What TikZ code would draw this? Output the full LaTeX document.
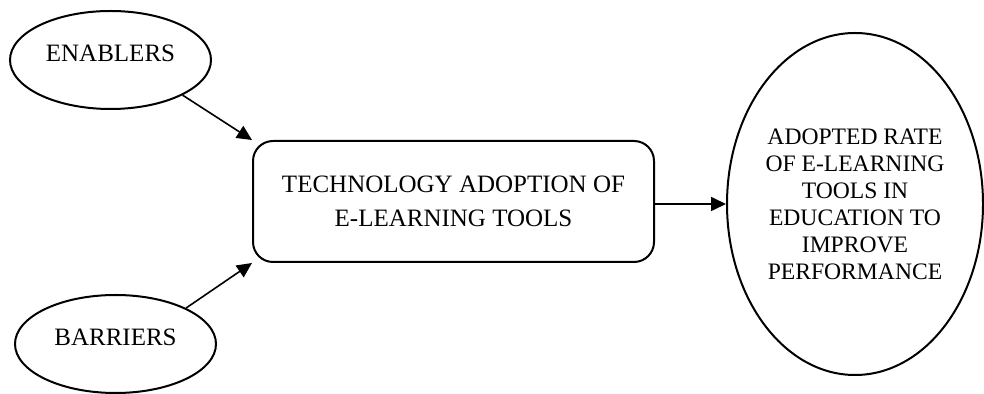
\documentclass[tikz,border=0pt]{standalone}
\usepackage{fontspec}
\setmainfont{Liberation Serif}
\usetikzlibrary{shapes.geometric,arrows.meta}

\begin{document}
\begin{tikzpicture}[x=0.5pt, y=-0.5pt,
				factor/.style={ellipse, draw=black, line width=1pt, minimum width=100.5pt, minimum height=49pt, inner sep=0pt, font=\fontsize{12.5}{15}\selectfont, text height=9pt, text depth=7.8pt},
				process/.style={rectangle, rounded corners=10pt, draw=black, line width=1pt, minimum width=200.5pt, minimum height=60.5pt, align=center, font=\fontsize{12.5}{17}\selectfont},
				result/.style={ellipse, draw=black, line width=1pt, minimum width=128pt, minimum height=171pt, inner sep=0pt, align=center, font=\fontsize{11.8}{13.5}\selectfont}
			]
			\useasboundingbox (0,0) rectangle (984,394);
			\node[factor] (enablers) at (110.5,60) {ENABLERS};
			\node[factor] (barriers) at (115.5,344) {BARRIERS};
			\node[process] (adoption) at (453.5,201.5) {TECHNOLOGY ADOPTION OF\\E-LEARNING TOOLS};
			\node[result] (rate) at (855,204) {ADOPTED RATE\\OF E-LEARNING\\TOOLS IN\\EDUCATION TO\\IMPROVE\\PERFORMANCE};
			\begin{scope}[line width=0.8pt, -{Triangle[length=7.5pt, width=7pt]}]
			\draw (enablers.-26) -- (adoption.north west);
			\draw (barriers.27) -- (adoption.south west);
			\draw (adoption.east |- rate.west) -- (rate.west);
			\end{scope}
			\end{tikzpicture}
\end{document}
